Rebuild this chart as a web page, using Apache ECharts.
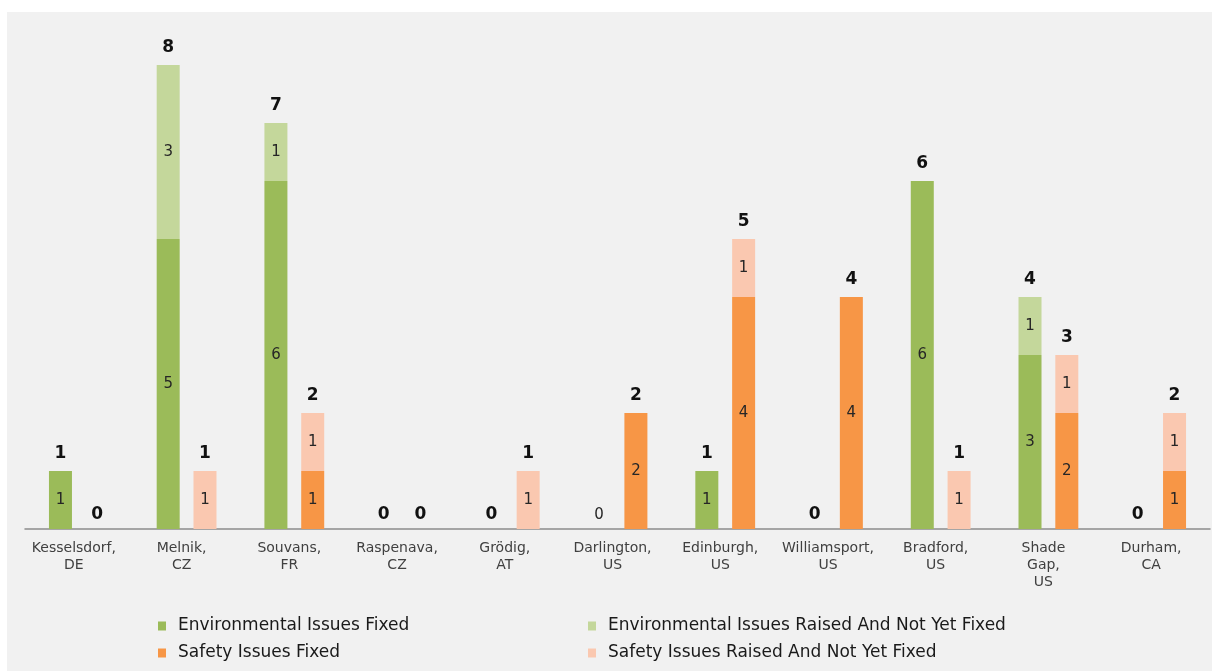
<!DOCTYPE html>
<html>
<head>
<meta charset="utf-8">
<script src="https://cdn.jsdelivr.net/npm/echarts@6/dist/echarts.min.js"></script>
<style>
  html, body { margin: 0; padding: 0; background: #fff; }
  #chart { position: absolute; left: 7px; top: 12px; width: 1205px; height: 659px; background: #f1f1f1; }
</style>
</head>
<body>
<div id="chart"></div>
<script>
const categories = ['Kesselsdorf,\nDE', 'Melnik,\nCZ', 'Souvans,\nFR', 'Raspenava,\nCZ', 'Grödig,\nAT',
  'Darlington,\nUS', 'Edinburgh,\nUS', 'Williamsport,\nUS', 'Bradford,\nUS', 'Shade\nGap,\nUS', 'Durham,\nCA'];
const envFixed = [1, 5, 6, 0, 0, 0, 1, 0, 6, 3, 0];
const envRaised = [0, 3, 1, 0, 0, 0, 0, 0, 0, 1, 0];
const safetyFixed = [0, 0, 1, 0, 0, 2, 4, 4, 0, 2, 1];
const safetyRaised = [0, 1, 1, 0, 1, 0, 1, 0, 1, 1, 1];
// the env total over Darlington is drawn as a plain 0 in the original
const plainEnvTotal = ['Darlington,\nUS'];

const names = ['Environmental Issues Fixed', 'Environmental Issues Raised And Not Yet Fixed',
  'Safety Issues Fixed', 'Safety Issues Raised And Not Yet Fixed'];
const colors = ['#9bbb59', '#c4d79b', '#f79646', '#fac8b0'];

const font = 'DejaVu Sans, Verdana, sans-serif';
const barW = 23;

function partSeries(name, stack, data, color) {
  return {
    name, type: 'bar', stack, data, barWidth: barW, barGap: '60%',
    itemStyle: { color },
    label: {
      show: true, position: 'inside', fontFamily: font, fontSize: 15, color: '#262626',
      formatter: p => (p.value ? p.value : '')
    }
  };
}

function totalSeries(stack, a, b, plain) {
  return {
    type: 'bar', stack, barWidth: barW, barGap: '60%', silent: true,
    itemStyle: { color: 'transparent' },
    data: a.map((v, i) => {
      const t = v + b[i];
      const isPlain = plain.includes(categories[i]);
      return {
        value: 0,
        label: {
          show: true, position: 'top', distance: t === 0 ? 6 : 9,
          fontFamily: font, fontSize: isPlain ? 15 : 17,
          fontWeight: isPlain ? 'normal' : 'bold',
          color: isPlain ? '#262626' : '#111',
          formatter: String(t)
        }
      };
    })
  };
}

const legendCommon = {
  orient: 'vertical', top: 605, itemWidth: 8, itemHeight: 9, itemGap: 9, padding: 0,
  icon: 'rect',
  textStyle: { fontFamily: font, fontSize: 17, color: '#1a1a1a', lineHeight: 18, padding: [0, 0, 0, 7] }
};

const chart = echarts.init(document.getElementById('chart'));
chart.setOption({
  animation: false,
  color: colors,
  grid: { left: 18, right: 2, top: 24, bottom: 142 },
  legend: [
    { ...legendCommon, left: 151, data: [names[0], names[2]] },
    { ...legendCommon, left: 581, data: [names[1], names[3]] }
  ],
  xAxis: {
    type: 'category', data: categories,
    axisLine: { lineStyle: { color: '#8c8c8c', width: 1.5 } },
    axisTick: { show: false },
    axisLabel: {
      interval: 0, margin: 11, fontFamily: font, fontSize: 14, color: '#404040',
      lineHeight: 17, padding: [0, 10, 0, 0]
    }
  },
  yAxis: { type: 'value', min: 0, max: 8.5, show: false, splitLine: { show: false } },
  series: [
    partSeries(names[0], 'env', envFixed, colors[0]),
    partSeries(names[1], 'env', envRaised, colors[1]),
    partSeries(names[2], 'safety', safetyFixed, colors[2]),
    partSeries(names[3], 'safety', safetyRaised, colors[3]),
    totalSeries('env', envFixed, envRaised, plainEnvTotal),
    totalSeries('safety', safetyFixed, safetyRaised, [])
  ]
});
</script>
</body>
</html>
